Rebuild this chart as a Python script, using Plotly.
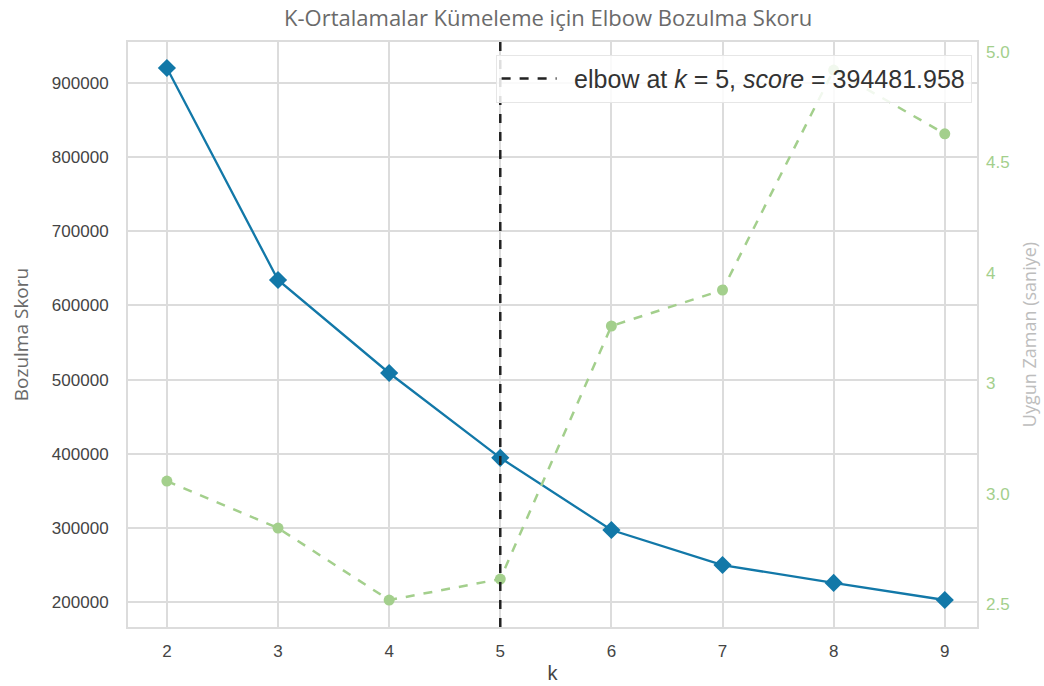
import plotly.graph_objects as go

k_values = [2, 3, 4, 5, 6, 7, 8, 9]
distortion = [920200, 634300, 508900, 394481.958, 297100, 249900, 225700, 202700]
fit_time = [3.057, 2.844, 2.518, 2.613, 3.759, 3.922, 4.918, 4.629]
elbow_k = 5
elbow_score = 394481.958
right_tickvals = [2.5, 3.0, 3.5, 4.0, 4.5, 5.0]
right_ticktext = ["2.5", "3.0", "3", "4", "4.5", "5.0"]
left_tickvals = [200000, 300000, 400000, 500000, 600000, 700000, 800000, 900000]
left_ticktext = [str(v) for v in left_tickvals]

BLUE = "#1278a8"
GREEN = "#a3cf8c"
GRID = "#dcdcdc"

fig = go.Figure()

fig.add_trace(go.Scatter(
    x=k_values, y=fit_time, mode="lines+markers", yaxis="y2",
    line=dict(color=GREEN, width=2.5, dash="dash"),
    marker=dict(symbol="circle", size=11, color=GREEN),
    showlegend=False, hoverinfo="x+y"))

fig.add_trace(go.Scatter(
    x=k_values, y=distortion, mode="lines+markers",
    line=dict(color=BLUE, width=2.3),
    marker=dict(symbol="diamond", size=14, color=BLUE),
    showlegend=False))

fig.add_vline(x=elbow_k, line=dict(color="#222222", width=2.5, dash="dash"), layer="above")

fig.add_trace(go.Scatter(
    x=[None], y=[None], mode="lines",
    line=dict(color="#222222", width=2.5, dash="dash"),
    name=f"\u2002elbow at <i>k</i> = {elbow_k}, <i>score</i> = {elbow_score:.3f}",
    showlegend=True))

fig.update_layout(
    width=1044, height=686,
    margin=dict(l=128, r=67, t=42, b=59),
    paper_bgcolor="white", plot_bgcolor="white",
    title=dict(text="K-Ortalamalar Kümeleme için Elbow Bozulma Skoru",
               x=0.525, xanchor="center", y=0.974, yanchor="middle",
               font=dict(family="Open Sans", size=22, color="#6a6a6a")),
    font=dict(family="Liberation Sans", color="#444444"),
    xaxis=dict(range=[1.65, 9.29], tickvals=k_values, showgrid=True, gridcolor=GRID,
               gridwidth=1.5, zeroline=False, showline=True, linecolor=GRID, linewidth=2,
               mirror=True, ticks="", tickfont=dict(size=17, color="#444444"),
               ticklabelstandoff=8, automargin=False,
               title=dict(text="k", font=dict(family="Liberation Sans", size=20, color="#444444"),
                          standoff=6)),
    yaxis=dict(range=[166300, 955300], tickvals=left_tickvals, ticktext=left_ticktext,
               showgrid=True, automargin=False,
               gridcolor=GRID, gridwidth=1.5, zeroline=False, showline=True, linecolor=GRID,
               linewidth=2, mirror=True, ticks="", tickfont=dict(size=17, color="#444444"),
               ticklabelstandoff=14,
               title=dict(text="Bozulma Skoru",
                          font=dict(family="Open Sans", size=19, color="#6a6a6a"),
                          standoff=18)),
    yaxis2=dict(range=[2.396, 5.045], overlaying="y", side="right", showgrid=False,
                zeroline=False, tickvals=right_tickvals, ticktext=right_ticktext, ticks="",
                tickfont=dict(size=17, color=GREEN), ticklabelstandoff=8, automargin=False,
                title=dict(text="Uygun Zaman (saniye)",
                           font=dict(family="Open Sans", size=18, color="#bdbdbd"),
                           standoff=14)),
    legend=dict(x=0.433, y=0.978, xanchor="left", yanchor="top",
                bgcolor="rgba(255,255,255,0.85)", bordercolor="#e6e6e6", borderwidth=1,
                font=dict(family="Liberation Sans", size=25, color="#333333"),
                itemwidth=55),
)

fig.write_html("out.html")
